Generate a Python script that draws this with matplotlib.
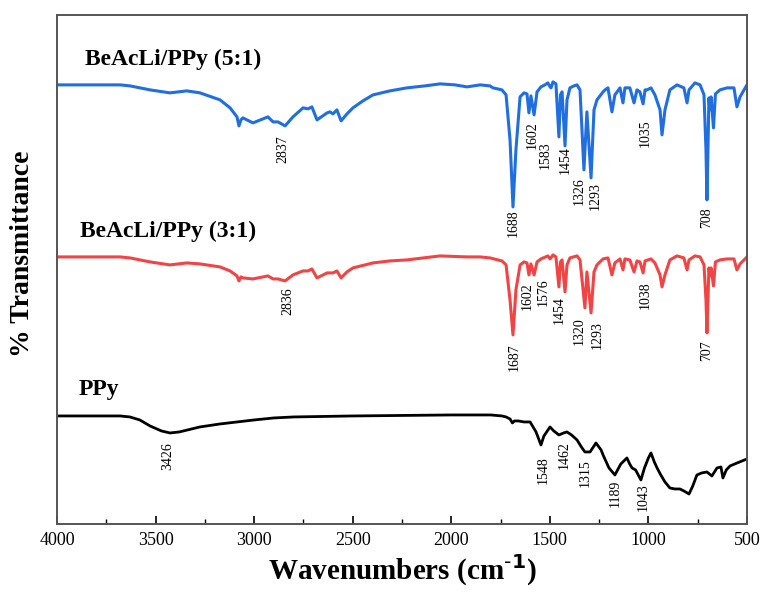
import matplotlib
matplotlib.use("Agg")
import matplotlib.pyplot as plt
from matplotlib.ticker import MultipleLocator

plt.rcParams['font.family'] = ['Liberation Serif', 'DejaVu Serif']

# wavenumber (cm-1) and offset transmittance (a.u.)
wn_51 = [4000, 3680, 3630, 3528, 3427, 3341, 3275, 3173, 3122, 3087, 3077, 3067, 3057, 3006,
         2930, 2904, 2879, 2843, 2803, 2752, 2727, 2707, 2681, 2630, 2615, 2600, 2580, 2559,
         2529, 2499, 2448, 2397, 2311, 2225, 2133, 2057, 1981, 1920, 1854, 1804, 1788, 1743,
         1722, 1702, 1687, 1672, 1651, 1631, 1616, 1606, 1596, 1580, 1565, 1545, 1525, 1510,
         1499, 1494, 1484, 1469, 1454, 1446, 1438, 1423, 1413, 1398, 1378, 1362, 1347, 1327,
         1312, 1291, 1276, 1261, 1230, 1220, 1205, 1185, 1170, 1144, 1129, 1119, 1094, 1073,
         1058, 1043, 1027, 1017, 1007, 987, 967, 941, 931, 916, 891, 855, 820, 804, 794, 764,
         738, 718, 708, 703, 698, 693, 688, 682, 670, 660, 637, 601, 566, 551, 535, 515, 500]
t_51 = [439, 439, 438, 434, 431, 433, 431, 424, 416, 407, 398, 404, 406, 401,
        407, 402, 402, 398, 407, 416, 415, 417, 404, 411, 412, 410, 414, 403,
        410, 416, 423, 429, 433, 436, 438, 440, 439, 437, 439, 438, 436, 434,
        429, 384, 317, 374, 427, 431, 430, 411, 428, 409, 432, 437, 439, 441,
        437, 436, 442, 440, 387, 429, 432, 378, 424, 436, 438, 439, 434, 354,
        412, 346, 414, 424, 432, 434, 436, 412, 429, 436, 421, 436, 436, 421,
        434, 432, 420, 434, 434, 436, 429, 414, 389, 414, 434, 439, 436, 421, 434, 441,
        439, 429, 374, 324, 374, 426, 414, 427, 396, 430, 434, 436, 436, 417, 427, 434, 439]

wn_31 = [4000, 3680, 3630, 3528, 3427, 3341, 3275, 3173, 3122, 3087, 3077, 3067, 3057, 3006,
         2930, 2904, 2879, 2843, 2803, 2752, 2727, 2707, 2681, 2630, 2600, 2580, 2559, 2529,
         2499, 2397, 2311, 2225, 2057, 1920, 1854, 1804, 1743, 1722, 1702, 1687, 1672, 1651,
         1631, 1616, 1606, 1596, 1580, 1565, 1545, 1510, 1499, 1484, 1469, 1454, 1446, 1438,
         1423, 1413, 1398, 1362, 1347, 1322, 1312, 1291, 1276, 1261, 1230, 1205, 1185, 1170,
         1144, 1129, 1119, 1094, 1073, 1058, 1043, 1027, 1017, 987, 967, 941, 931, 916, 891,
         855, 820, 804, 794, 764, 738, 718, 708, 703, 698, 693, 688, 682, 670, 660, 637, 601,
         566, 551, 535, 515, 500]
t_31 = [267, 267, 266, 262, 259, 261, 260, 257, 253, 248, 243, 247, 246, 245,
        248, 245, 245, 243, 249, 253, 253, 255, 246, 251, 251, 253, 246, 252,
        256, 261, 263, 264, 268, 267, 267, 266, 263, 259, 224, 189, 234, 259,
        262, 261, 249, 260, 249, 262, 265, 268, 265, 269, 267, 237, 262, 264,
        232, 259, 266, 268, 264, 216, 252, 211, 252, 259, 265, 266, 249, 261,
        265, 254, 265, 264, 252, 263, 262, 251, 263, 265, 261, 249, 237, 249, 264,
        268, 266, 254, 264, 268, 267, 259, 224, 191, 224, 256, 248, 256, 238, 262, 264, 265,
        265, 254, 260, 264, 267]

wn_ppy = [4000, 3680, 3630, 3580, 3528, 3470, 3427, 3380, 3275, 3173, 3000, 2900, 2800, 2500,
          2000, 1800, 1743, 1722, 1702, 1690, 1680, 1660, 1631, 1600, 1570, 1545, 1530, 1499,
          1480, 1454, 1430, 1413, 1390, 1362, 1340, 1322, 1296, 1266, 1240, 1230, 1200, 1170,
          1140, 1109, 1095, 1083, 1065, 1038, 1020, 1000, 987, 970, 956, 940, 916, 891, 865,
          840, 820, 794, 775, 754, 730, 703, 678, 652, 632, 622, 605, 586, 550, 500]
t_ppy = [108, 108, 107, 104, 98, 93, 91, 92, 97, 100, 104, 106, 107, 108,
         109, 109, 108, 107, 105, 101, 103, 103, 102, 102, 92, 79, 88, 97,
         93, 89, 91, 92, 89, 84, 77, 72, 72, 81, 74, 69, 56, 49,
         60, 66, 60, 56, 54, 44, 56, 66, 71, 62, 56, 50, 42, 36, 35,
         35, 33, 30, 38, 49, 51, 52, 48, 56, 57, 46, 54, 58, 61, 65]

# peak labels: text, x (cm-1), y (a.u.)
peaks_51 = [("2837", 2854, 375), ("1688", 1687, 301), ("1602", 1591, 389), ("1583", 1525, 369),
            ("1454", 1423, 364), ("1326", 1352, 333), ("1293", 1271, 328), ("1035", 1017, 391),
            ("708", 703, 306)]
peaks_31 = [("2836", 2828, 223), ("1687", 1682, 167), ("1602", 1616, 228), ("1576", 1535, 232),
            ("1454", 1454, 214), ("1320", 1352, 193), ("1293", 1261, 189), ("1038", 1017, 229),
            ("707", 703, 173)]
peaks_ppy = [("3426", 3437, 68), ("1548", 1535, 54), ("1462", 1428, 69), ("1315", 1322, 51),
             ("1189", 1170, 31), ("1043", 1027, 27)]

fig = plt.figure(figsize=(7.63, 5.92), dpi=100)
ax = fig.add_axes([0.0747, 0.1149, 0.9043, 0.86])

ax.plot(wn_51, t_51, color='#1f6fe0', lw=2.2)
ax.plot(wn_31, t_31, color='#f24444', lw=2.2)
ax.plot(wn_ppy, t_ppy, color='black', lw=2.0)

for peaks in (peaks_51, peaks_31, peaks_ppy):
    for txt, x, y in peaks:
        ax.text(x, y, txt, rotation=90, ha='center', va='center', fontsize=10)

ax.text(3858, 459, 'BeAcLi/PPy (5:1)', fontsize=17, fontweight='bold')
ax.text(3883, 287, 'BeAcLi/PPy (3:1)', fontsize=17, fontweight='bold')
ax.text(3888, 129, 'PPy', fontsize=17, fontweight='bold')

ax.set_xlim(4000, 500)
ax.set_ylim(0, 509)
ax.xaxis.set_major_locator(MultipleLocator(500))
ax.xaxis.set_minor_locator(MultipleLocator(250))
ax.tick_params(axis='x', which='major', direction='in', length=6, width=1.2, labelsize=13, pad=6)
ax.tick_params(axis='x', which='minor', direction='in', length=3.5, width=1.0)
ax.set_yticks([])
for s in ax.spines.values():
    s.set_color('#555555')
    s.set_linewidth(1.4)

ax.set_xlabel('Wavenumbers (cm$^{\\mathbf{\\text{-}1}}$)', fontsize=21, fontweight='bold')
ax.xaxis.set_label_coords(0.5, -0.056)
ax.set_ylabel('% Transmittance', fontsize=20, fontweight='bold')
ax.yaxis.set_label_coords(-0.032, 0.53)

fig.savefig('out.png', dpi=100)
